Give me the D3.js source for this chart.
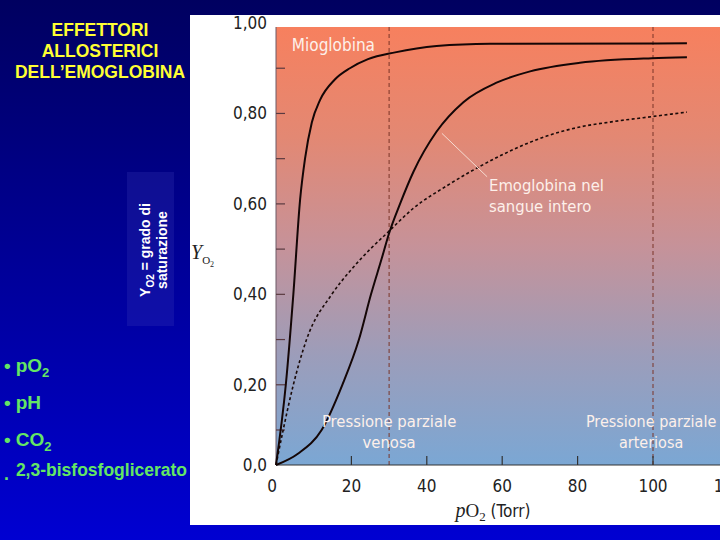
<!DOCTYPE html>
<html>
<head>
<meta charset="utf-8">
<title>Effettori allosterici</title>
<style>
  body { margin: 0; background: #000066; }
  svg { display: block; }
</style>
</head>
<body>
<script src="https://d3js.org/d3.v7.min.js"></script>
<script>
// --- dati ---
let titleLines = ["EFFETTORI", "ALLOSTERICI", "DELL\u2019EMOGLOBINA"];
let xTicks = [0, 20, 40, 60, 80, 100, 120];
let yLabelVals = [0, 0.2, 0.4, 0.6, 0.8, 1.0];
let yLabelText = ["0,0", "0,20", "0,40", "0,60", "0,80", "1,00"];
let yMinor = [0.1, 0.2, 0.3, 0.4, 0.5, 0.6, 0.7, 0.8, 0.9];
let refLines = [30, 100]; // venosa, arteriosa

// mioglobina
let myoX = [0, 2.6, 4.6, 6.4, 7.7, 9.5, 11.7, 15.6, 19.6, 24.4, 31.6, 42.6, 56.8, 109];
let myoY = [0, 0.20, 0.40, 0.61, 0.70, 0.78, 0.83, 0.875, 0.90, 0.92, 0.935, 0.949, 0.954, 0.955];
// emoglobina nel sangue intero (sigmoide)
let hbX = [0, 5.9, 12.1, 17.6, 22.0, 25.2, 28.0, 30, 32.9, 36.4, 42.6, 49.7, 58.5, 67.4, 80.6, 99.7, 109];
let hbY = [0, 0.033, 0.10, 0.20, 0.30, 0.40, 0.478, 0.535, 0.60, 0.67, 0.76, 0.825, 0.868, 0.893, 0.912, 0.922, 0.924];
// curva tratteggiata
let dashX = [0, 1.9, 4.6, 8.1, 14.8, 20, 25, 29.4, 36.4, 45.3, 54.1, 62.9, 71.8, 80.6, 89.5, 99.7, 109];
let dashY = [0, 0.10, 0.20, 0.30, 0.40, 0.455, 0.50, 0.535, 0.59, 0.64, 0.683, 0.72, 0.75, 0.77, 0.782, 0.793, 0.803];

let bullets = ["pO", "pH", "CO"];

let W = 720, H = 540;
let svg = d3.select("body").append("svg").attr("width", W).attr("height", H);
let defs = svg.append("defs");

let bg = defs.append("linearGradient").attr("id", "bg").attr("x1", 0).attr("y1", 0).attr("x2", 0).attr("y2", 1);
bg.append("stop").attr("offset", "0%").attr("stop-color", "#000060");
bg.append("stop").attr("offset", "100%").attr("stop-color", "#0000d2");

let pg = defs.append("linearGradient").attr("id", "plotbg").attr("x1", 0).attr("y1", 0).attr("x2", 0).attr("y2", 1);
pg.append("stop").attr("offset", "0%").attr("stop-color", "#f7805e");
pg.append("stop").attr("offset", "25%").attr("stop-color", "#e38873");
pg.append("stop").attr("offset", "50%").attr("stop-color", "#c69299");
pg.append("stop").attr("offset", "75%").attr("stop-color", "#9c9dba");
pg.append("stop").attr("offset", "100%").attr("stop-color", "#7ba7d4");

svg.append("rect").attr("width", W).attr("height", H).attr("fill", "url(#bg)");

// titolo
svg.selectAll(".title")
    .data(titleLines)
    .enter()
    .append("text")
    .attr("class", "title")
    .attr("x", 100)
    .attr("y", function(d, i) { return 36 + i * 21; })
    .attr("text-anchor", "middle")
    .attr("font-family", "Liberation Sans, Arial, sans-serif")
    .attr("font-weight", "bold")
    .attr("font-size", 17.5)
    .attr("fill", "#ffff33")
    .text(function(d) { return d; });

// riquadro etichetta Y
svg.append("rect").attr("x", 127).attr("y", 172).attr("width", 47).attr("height", 154)
    .attr("fill", "#3a3ab8").attr("opacity", 0.25);

let yl1 = svg.append("text")
    .attr("transform", "translate(150,250) rotate(-90)")
    .attr("text-anchor", "middle")
    .attr("font-family", "Liberation Sans, Arial, sans-serif")
    .attr("font-weight", "bold").attr("font-size", 14).attr("fill", "#ffffff");
yl1.append("tspan").text("Y");
yl1.append("tspan").attr("font-size", 10).attr("dy", 4).text("O2");
yl1.append("tspan").attr("dy", -4).text(" = grado di");

svg.append("text")
    .attr("transform", "translate(167,250) rotate(-90)")
    .attr("text-anchor", "middle")
    .attr("font-family", "Liberation Sans, Arial, sans-serif")
    .attr("font-weight", "bold").attr("font-size", 14).attr("fill", "#ffffff")
    .text("saturazione");

// elenco
let bl = svg.selectAll(".bul")
    .data(bullets)
    .enter()
    .append("text")
    .attr("class", "bul")
    .attr("x", 4)
    .attr("y", function(d, i) { return 372 + i * 37; })
    .attr("font-family", "Liberation Sans, Arial, sans-serif")
    .attr("font-weight", "bold")
    .attr("font-size", 19)
    .attr("fill", "#64e664");
bl.append("tspan").attr("font-size", 19).text("\u2022");
bl.append("tspan").attr("dx", 5).text(function(d) { return d; });
bl.filter(function(d) { return d !== "pH"; })
    .append("tspan").attr("font-size", 13).attr("dy", 5).text("2");

let last = svg.append("text").attr("x", 4).attr("y", 476)
    .attr("font-family", "Liberation Sans, Arial, sans-serif")
    .attr("font-weight", "bold").attr("font-size", 17.5).attr("fill", "#64e664");
last.append("tspan").attr("dy", 4).text(".");
last.append("tspan").attr("dy", -4).attr("dx", 7).text("2,3-bisfosfoglicerato");

// pannello bianco
svg.append("rect").attr("x", 190).attr("y", 15).attr("width", 530).attr("height", 510).attr("fill", "#ffffff");

// scale
let x = d3.scaleLinear().domain([0, 100]).range([276, 653]);
let y = d3.scaleLinear().domain([0, 0.1, 1]).range([465, 430, 23]);

svg.append("rect")
    .attr("x", x(0)).attr("y", 27)
    .attr("width", W - x(0)).attr("height", y(0) - 27)
    .attr("fill", "url(#plotbg)");

// linee di riferimento
svg.selectAll(".ref")
    .data(refLines)
    .enter()
    .append("line")
    .attr("class", "ref")
    .attr("x1", function(d) { return x(d); })
    .attr("x2", function(d) { return x(d); })
    .attr("y1", 27).attr("y2", y(0))
    .attr("stroke", "#7a3528").attr("stroke-width", 1).attr("stroke-dasharray", "4,3");

// assi
svg.append("line").attr("x1", x(0)).attr("x2", W).attr("y1", y(0)).attr("y2", y(0))
    .attr("stroke", "#333").attr("stroke-width", 1.2);
svg.append("line").attr("x1", x(0)).attr("x2", x(0)).attr("y1", 27).attr("y2", y(0))
    .attr("stroke", "#6d5a66").attr("stroke-width", 1);

svg.selectAll(".xt")
    .data(xTicks.filter(function(d) { return d > 0; }))
    .enter()
    .append("line")
    .attr("class", "xt")
    .attr("x1", function(d) { return x(d); })
    .attr("x2", function(d) { return x(d); })
    .attr("y1", y(0)).attr("y2", y(0) - 9)
    .attr("stroke", "#333").attr("stroke-width", 1.2);

svg.selectAll(".yt")
    .data(yMinor)
    .enter()
    .append("line")
    .attr("class", "yt")
    .attr("x1", x(0)).attr("x2", x(0) + 9)
    .attr("y1", function(d) { return y(d); })
    .attr("y2", function(d) { return y(d); })
    .attr("stroke", "#5a3a40").attr("stroke-width", 1.2);

let axisFont = "Liberation Sans Narrow, DejaVu Sans Condensed, sans-serif";

svg.selectAll(".xl")
    .data(xTicks)
    .enter()
    .append("text")
    .attr("class", "xl")
    .attr("x", function(d) { return x(d) - (d === 0 ? 4 : 0); })
    .attr("y", 492)
    .attr("text-anchor", "middle")
    .attr("font-family", axisFont).attr("font-size", 17).attr("fill", "#222")
    .text(function(d) { return d; });

svg.selectAll(".yl")
    .data(yLabelVals)
    .enter()
    .append("text")
    .attr("class", "yl")
    .attr("x", 267)
    .attr("y", function(d) { return y(d) + 6; })
    .attr("text-anchor", "end")
    .attr("font-family", axisFont).attr("font-size", 17).attr("fill", "#222")
    .text(function(d, i) { return yLabelText[i]; });

// titoli assi
let xt = svg.append("text").attr("x", 493).attr("y", 517).attr("text-anchor", "middle").attr("fill", "#222");
xt.append("tspan").attr("font-family", "Liberation Serif, serif").attr("font-style", "italic").attr("font-size", 20).text("p");
xt.append("tspan").attr("font-family", "Liberation Serif, serif").attr("font-size", 19).text("O");
xt.append("tspan").attr("font-family", "Liberation Serif, serif").attr("font-size", 13).attr("dy", 4).text("2");
xt.append("tspan").attr("font-family", axisFont).attr("font-size", 17).attr("dy", -4).text(" (Torr)");

let yt = svg.append("text").attr("x", 191).attr("y", 259).attr("fill", "#222");
yt.append("tspan").attr("font-family", "Liberation Serif, serif").attr("font-style", "italic").attr("font-size", 20).text("Y");
yt.append("tspan").attr("font-family", "Liberation Serif, serif").attr("font-size", 11).attr("dy", 5).text("O");
yt.append("tspan").attr("font-family", "Liberation Serif, serif").attr("font-size", 8).attr("dy", 3).text("2");

// curve
let line = d3.line()
    .x(function(d) { return x(d[0]); })
    .y(function(d) { return y(d[1]); })
    .curve(d3.curveMonotoneX);

function pairs(xs, ys) {
    return xs.map(function(v, i) { return [v, ys[i]]; });
}

svg.append("path").datum(pairs(dashX, dashY)).attr("d", line)
    .attr("fill", "none").attr("stroke", "#1a0a08").attr("stroke-width", 1.6).attr("stroke-dasharray", "3,2.5");
svg.append("path").datum(pairs(hbX, hbY)).attr("d", line)
    .attr("fill", "none").attr("stroke", "#140606").attr("stroke-width", 2);
svg.append("path").datum(pairs(myoX, myoY)).attr("d", line)
    .attr("fill", "none").attr("stroke", "#140606").attr("stroke-width", 2);

// annotazioni
let pointer = [[44, 0.756], [56, 0.66]];
svg.append("line")
    .attr("x1", x(pointer[0][0])).attr("y1", y(pointer[0][1]))
    .attr("x2", x(pointer[1][0])).attr("y2", y(pointer[1][1]))
    .attr("stroke", "#f6dcd2").attr("stroke-width", 1);

let labelFont = "Liberation Sans Narrow, DejaVu Sans Condensed, sans-serif";
function plotLabel(lines, px, py, anchor, size) {
    let t = svg.append("text")
        .attr("font-family", labelFont).attr("font-size", size)
        .attr("fill", "#fdf0ea").attr("text-anchor", anchor);
    lines.forEach(function(s, i) {
        t.append("tspan").attr("x", x(px)).attr("y", y(py) + i * 21).text(s);
    });
}
plotLabel(["Mioglobina"], 4.2, 0.938, "start", 17);
plotLabel(["Emoglobina nel", "sangue intero"], 56.5, 0.628, "start", 16.5);
plotLabel(["Pressione parziale", "venosa"], 30, 0.107, "middle", 16.5);
plotLabel(["Pressione parziale", "arteriosa"], 99.5, 0.107, "middle", 16);
</script>
</body>
</html>
